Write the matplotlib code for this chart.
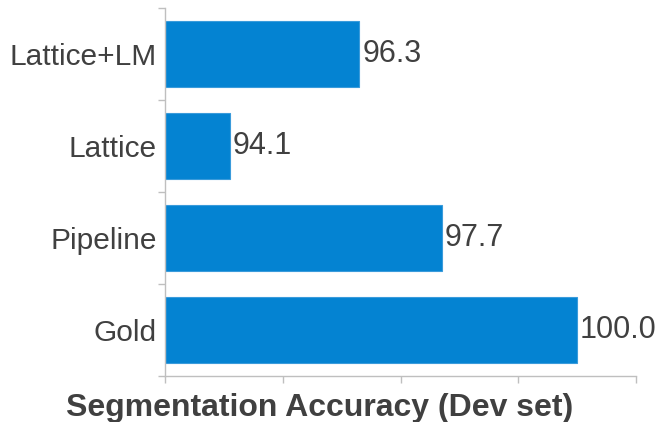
import matplotlib
matplotlib.use("Agg")
import matplotlib.pyplot as plt

# Segmentation accuracy on the dev set
systems = ["Gold", "Pipeline", "Lattice", "Lattice+LM"]
accuracy = [100.0, 97.7, 94.1, 96.3]
x_ticks = [93, 95, 97, 99, 101]

plt.rcParams["font.family"] = ["Liberation Sans", "DejaVu Sans"]

fig = plt.figure(figsize=(6.62, 4.22), dpi=100)
ax = fig.add_axes([165 / 662, 1 - 376 / 422, (636 - 165) / 662, (376 - 8) / 422])

bar_color = "#0483D2"
text_color = "#404040"
grid_color = "#BFBFBF"

pos = list(range(len(systems)))
ax.barh(pos, [a - x_ticks[0] for a in accuracy], left=x_ticks[0], height=0.71,
        color=bar_color, edgecolor="#3A9BDB", linewidth=0.8)

for p, a in zip(pos, accuracy):
    ax.text(a + 0.05, p, f"{a:.1f}", va="center", ha="left",
            fontsize=22, color=text_color)

ax.set_xlim(x_ticks[0], x_ticks[-1])
ax.set_ylim(-0.5, len(systems) - 0.5)

ax.set_xticks(x_ticks)
ax.set_xticklabels([])
ax.tick_params(axis="x", length=5, width=1, color=grid_color, direction="out")

# category boundaries as major ticks, labels on minor ticks
ax.set_yticks([p - 0.5 for p in pos] + [len(systems) - 0.5])
ax.set_yticklabels([])
ax.tick_params(axis="y", which="major", length=5, width=1, color=grid_color)
ax.set_yticks(pos, minor=True)
ax.set_yticklabels(systems, minor=True, fontsize=21.5, color=text_color)
ax.tick_params(axis="y", which="minor", length=0, pad=6)

for side in ["top", "right"]:
    ax.spines[side].set_visible(False)
for side in ["left", "bottom"]:
    ax.spines[side].set_color(grid_color)
    ax.spines[side].set_linewidth(1)

fig.text(320 / 662, 1 - 408 / 422, "Segmentation Accuracy (Dev set)",
         ha="center", va="center", fontsize=23, fontweight="bold", color=text_color)

fig.savefig("out.png", dpi=100)
